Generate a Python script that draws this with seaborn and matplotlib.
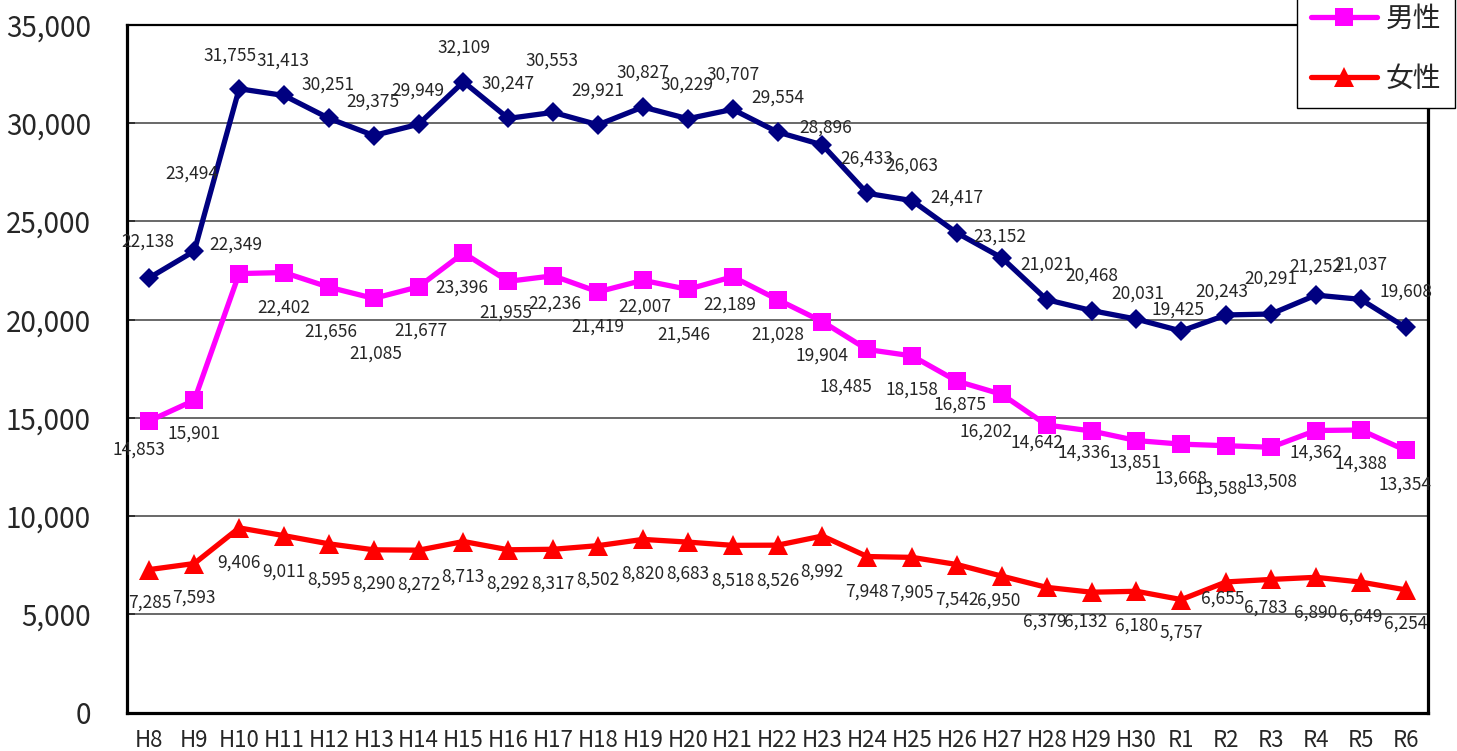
import numpy as np
import pandas as pd
import matplotlib
matplotlib.use("Agg")
import matplotlib.pyplot as plt
import seaborn as sns

# Data
years = ['H8', 'H9', 'H10', 'H11', 'H12', 'H13', 'H14', 'H15', 'H16', 'H17',
         'H18', 'H19', 'H20', 'H21', 'H22', 'H23', 'H24', 'H25', 'H26', 'H27',
         'H28', 'H29', 'H30', 'R1', 'R2', 'R3', 'R4', 'R5', 'R6']
total = [22138, 23494, 31755, 31413, 30251, 29375, 29949, 32109, 30247, 30553,
         29921, 30827, 30229, 30707, 29554, 28896, 26433, 26063, 24417, 23152,
         21021, 20468, 20031, 19425, 20243, 20291, 21252, 21037, 19608]
male = [14853, 15901, 22349, 22402, 21656, 21085, 21677, 23396, 21955, 22236,
        21419, 22007, 21546, 22189, 21028, 19904, 18485, 18158, 16875, 16202,
        14642, 14336, 13851, 13668, 13588, 13508, 14362, 14388, 13354]
female = [7285, 7593, 9406, 9011, 8595, 8290, 8272, 8713, 8292, 8317,
          8502, 8820, 8683, 8518, 8526, 8992, 7948, 7905, 7542, 6950,
          6379, 6132, 6180, 5757, 6655, 6783, 6890, 6649, 6254]

# data label offsets in pixels (dx, dy; dy positive = downwards)
total_off = [(-2, -36), (-2, -77), (-9, -33), (-1, -35), (-1, -34), (-1, -34), (-1, -34),
             (0, -34), (0, -35), (-1, -52), (0, -34), (0, -34), (-1, -34), (0, -35),
             (0, -34), (3, -17), (0, -35), (0, -35), (0, -35), (-2, -21), (0, -35),
             (0, -35), (1, -25), (-3, -21), (-4, -23), (0, -35), (0, -29), (0, -35),
             (0, -36)]
male_off = [(-10, 29), (0, 33), (-3, -29), (0, 35), (2, 44), (2, 55), (2, 44),
            (-2, 35), (-3, 31), (2, 28), (0, 35), (2, 26), (-4, 45), (-3, 28),
            (0, 35), (0, 34), (-21, 37), (0, 34), (3, 23), (-16, 37), (-10, 18),
            (-8, 22), (-1, 22), (0, 34), (-5, 43), (0, 34), (0, 22), (0, 34),
            (-1, 34)]
female_off = [(0, 33), (0, 34), (0, 35), (0, 36), (0, 36), (0, 34), (0, 34),
              (-1, 35), (0, 34), (0, 34), (0, 34), (0, 34), (0, 32), (0, 35),
              (0, 35), (0, 36), (0, 35), (0, 35), (0, 35), (-3, 24), (-2, 34),
              (-6, 29), (0, 34), (0, 33), (-3, 17), (-5, 28), (0, 35), (0, 35),
              (0, 34)]

sns.set_style('white')
plt.rcParams['font.family'] = ['Noto Sans CJK JP', 'DejaVu Sans']

pos = np.arange(len(years))
df = pd.DataFrame({'pos': pos, 'total': total, 'male': male, 'female': female})

fig = plt.figure(figsize=(14.57, 7.51), dpi=100)
ax = fig.add_axes([127 / 1457, 1 - 712.7 / 751, (1428 - 127) / 1457, (712.7 - 25) / 751])

series = [
    ('total', '総数', '#000080', 'D', 10, total_off),
    ('male', '男性', '#FF00FF', 's', 13.5, male_off),
    ('female', '女性', '#FF0000', '^', 14, female_off),
]
for col, name, color, mk, ms, offs in series:
    sns.lineplot(data=df, x='pos', y=col, ax=ax, color=color, marker=mk,
                 markersize=ms, markeredgewidth=0, linewidth=3.8, label=name,
                 legend=False)
    for x, v, (dx, dy) in zip(pos, df[col], offs):
        ax.annotate(f'{v:,}', (x, v), xytext=(dx, -dy), textcoords='offset pixels',
                    ha='center', va='center', fontsize=12.5, color='#262626')

ax.set_xlim(-0.5, len(years) - 0.5)
ax.set_ylim(0, 35000)
ax.set_yticks(np.arange(0, 35001, 5000))
ax.set_yticklabels([f'{t:,}' for t in range(0, 35001, 5000)])
ax.set_xticks(pos)
ax.set_xticklabels(years)
ax.set_xticks(pos[:-1] + 0.5, minor=True)
ax.set_xlabel('')
ax.set_ylabel('')

ax.grid(axis='y', color='#404040', linewidth=1.1)
ax.tick_params(axis='x', which='major', length=0, pad=12, labelsize=16, labelcolor='#262626')
ax.tick_params(axis='x', which='minor', direction='in', length=6, width=1.2, color='#333333')
ax.tick_params(axis='y', direction='in', length=6, width=1.2, pad=26, labelsize=20,
               labelcolor='#262626', left=True)

for side in ['left', 'bottom', 'right']:
    ax.spines[side].set_linewidth(2.3)
    ax.spines[side].set_color('black')
ax.spines['top'].set_linewidth(1.6)
ax.spines['top'].set_color('black')

handles, labels = ax.get_legend_handles_labels()
leg = fig.legend(handles, labels, loc='lower right',
                 bbox_to_anchor=(1455 / 1457, 1 - 108 / 751), fontsize=20,
                 frameon=True, fancybox=False, edgecolor='black', framealpha=1,
                 borderaxespad=0, borderpad=0.5, handlelength=2.4,
                 handletextpad=0.3, labelspacing=1.1, numpoints=1)
leg.get_frame().set_linewidth(1.0)
for t in leg.get_texts():
    t.set_color('#262626')

fig.savefig('out.png', dpi=100)
